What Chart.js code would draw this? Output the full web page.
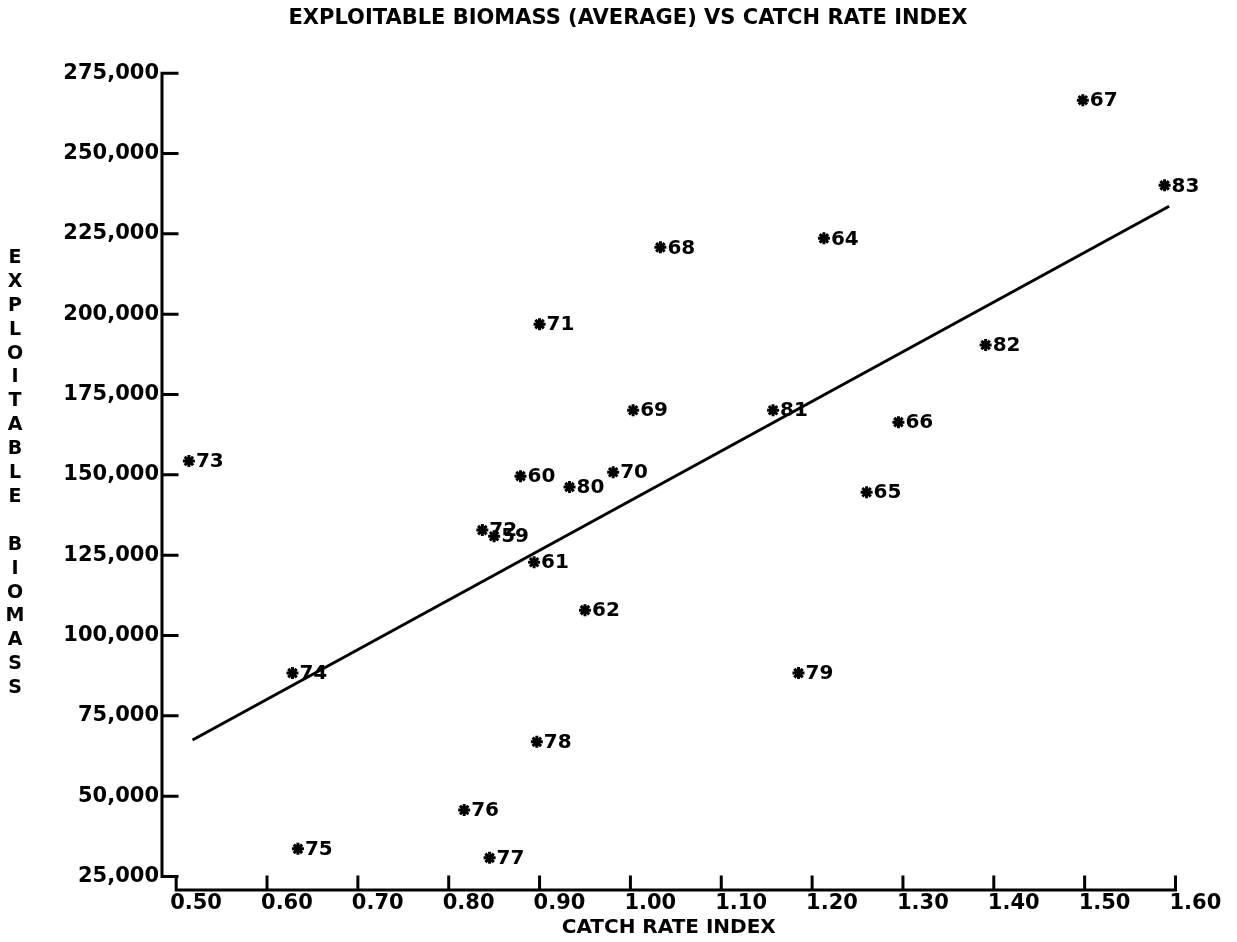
<!DOCTYPE html>
<html>
<head>
<meta charset="utf-8">
<title>Exploitable biomass vs catch rate index</title>
<script src="https://cdn.jsdelivr.net/npm/chart.js@4/dist/chart.umd.min.js"></script>
<style>
  html, body { margin: 0; padding: 0; background: #fff; }
  #wrap { width: 1237px; height: 942px; }
</style>
</head>
<body>
<div id="wrap"><canvas id="biomassChart" width="1237" height="942"></canvas></div>
<script>
// values
const years = ['73', '74', '75', '76', '77', '78', '61', '62', '72', '59', '60', '80',
  '70', '69', '71', '68', '64', '81', '66', '65', '79', '82', '67', '83'];
const catchRate = [0.514, 0.628, 0.634, 0.817, 0.845, 0.897, 0.894, 0.950, 0.837, 0.850, 0.879, 0.933,
  0.981, 1.003, 0.900, 1.033, 1.213, 1.157, 1.295, 1.260, 1.185, 1.391, 1.498, 1.588];
const biomass = [154300, 88300, 33600, 45700, 30800, 66900, 122800, 107900, 132800, 130900, 149600, 146200,
  150800, 170100, 196900, 220800, 223600, 170100, 166400, 144600, 88300, 190400, 266600, 240100];

// regression line end points
const fitX = [0.518, 1.593];
const fitY = [67500, 233600];

const xTicks = [0.5, 0.6, 0.7, 0.8, 0.9, 1.0, 1.1, 1.2, 1.3, 1.4, 1.5, 1.6];
const yTicks = [25000, 50000, 75000, 100000, 125000, 150000, 175000, 200000, 225000, 250000, 275000];

const yLabel = 'EXPLOITABLE BIOMASS';

Chart.defaults.font.family = "'DejaVu Sans', sans-serif";
Chart.defaults.font.weight = 'bold';
Chart.defaults.color = '#000';

let points = [];
for (let i = 0; i < years.length; i++) {
  points.push({ x: catchRate[i], y: biomass[i] });
}
let fitLine = [];
for (let i = 0; i < fitX.length; i++) {
  fitLine.push({ x: fitX[i], y: fitY[i] });
}

// plotter style axes: ticks point inwards, x axis sits a little below the 25,000 tick
const plotterAxes = {
  id: 'plotterAxes',
  afterDraw(chart) {
    const ctx = chart.ctx;
    const xs = chart.scales.x;
    const ys = chart.scales.y;
    const left = chart.chartArea.left;
    const bottom = chart.chartArea.bottom;
    ctx.save();
    ctx.strokeStyle = '#000';
    ctx.lineWidth = 3;
    ctx.lineCap = 'square';
    ctx.beginPath();
    ctx.moveTo(left, ys.getPixelForValue(yTicks[yTicks.length - 1]));
    ctx.lineTo(left, ys.getPixelForValue(yTicks[0]));
    ctx.moveTo(xs.getPixelForValue(xTicks[0]), bottom);
    ctx.lineTo(xs.getPixelForValue(xTicks[xTicks.length - 1]), bottom);
    yTicks.forEach(v => {
      const py = ys.getPixelForValue(v);
      ctx.moveTo(left, py);
      ctx.lineTo(left + 15, py);
    });
    xTicks.forEach(v => {
      const px = xs.getPixelForValue(v);
      ctx.moveTo(px, bottom);
      ctx.lineTo(px, bottom - 13);
    });
    ctx.stroke();

    // stacked axis title on the left
    ctx.fillStyle = '#000';
    ctx.font = "bold 19px 'DejaVu Sans', sans-serif";
    ctx.textAlign = 'center';
    ctx.textBaseline = 'middle';
    for (let i = 0; i < yLabel.length; i++) {
      ctx.fillText(yLabel[i], 15, 258 + i * 23.9);
    }
    ctx.restore();
  }
};

// year number written next to each star
const yearLabels = {
  id: 'yearLabels',
  afterDatasetsDraw(chart) {
    const ctx = chart.ctx;
    const meta = chart.getDatasetMeta(0);
    ctx.save();
    ctx.fillStyle = '#000';
    ctx.font = "bold 20px 'DejaVu Sans', sans-serif";
    ctx.textAlign = 'left';
    ctx.textBaseline = 'middle';
    meta.data.forEach((el, i) => {
      ctx.fillText(years[i], el.x + 7, el.y + 1);
    });
    ctx.restore();
  }
};

const ctx = document.getElementById('biomassChart').getContext('2d');
const myChart = new Chart(ctx, {
  type: 'scatter',
  data: {
    datasets: [{
      label: 'Years',
      data: points,
      pointStyle: 'star',
      pointRadius: 6,
      borderColor: '#000',
      backgroundColor: '#000',
      borderWidth: 3
    },
    {
      type: 'line',
      label: 'Fit',
      data: fitLine,
      borderColor: '#000',
      borderWidth: 3,
      pointRadius: 0,
      fill: false
    }]
  },
  options: {
    responsive: false,
    animation: false,
    layout: {
      padding: { left: 19, right: 0, top: 0, bottom: 0 }
    },
    plugins: {
      legend: { display: false },
      tooltip: { enabled: false },
      title: {
        display: true,
        text: 'EXPLOITABLE BIOMASS (AVERAGE) VS CATCH RATE INDEX',
        font: { size: 21, weight: 'bold' },
        padding: { top: 6, bottom: 42 }
      }
    },
    scales: {
      x: {
        type: 'linear',
        min: 0.4844,
        max: 1.6,
        grid: { display: false, drawTicks: false },
        border: { display: false },
        afterBuildTicks: scale => {
          scale.ticks = xTicks.map(v => ({ value: v }));
        },
        afterFit: scale => {
          scale.height = 52;
          scale.paddingLeft = 0;
          scale.paddingRight = 61.5;
        },
        ticks: {
          align: 'start',
          labelOffset: -6,
          padding: 1,
          maxRotation: 0,
          autoSkip: false,
          font: { size: 21, weight: 'bold' },
          callback: value => value.toFixed(2)
        },
        title: {
          display: true,
          text: 'CATCH RATE INDEX',
          font: { size: 20, weight: 'bold' },
          padding: { top: 0, bottom: 2 }
        }
      },
      y: {
        type: 'linear',
        min: 20800,
        max: 275000,
        grid: { display: false, drawTicks: false },
        border: { display: false },
        afterBuildTicks: scale => {
          scale.ticks = yTicks.map(v => ({ value: v }));
        },
        afterFit: scale => {
          scale.width = 143;
        },
        ticks: {
          padding: 3,
          autoSkip: false,
          font: { size: 21, weight: 'bold' },
          callback: value => value.toLocaleString('en-US')
        }
      }
    }
  },
  plugins: [plotterAxes, yearLabels]
});
</script>
</body>
</html>
